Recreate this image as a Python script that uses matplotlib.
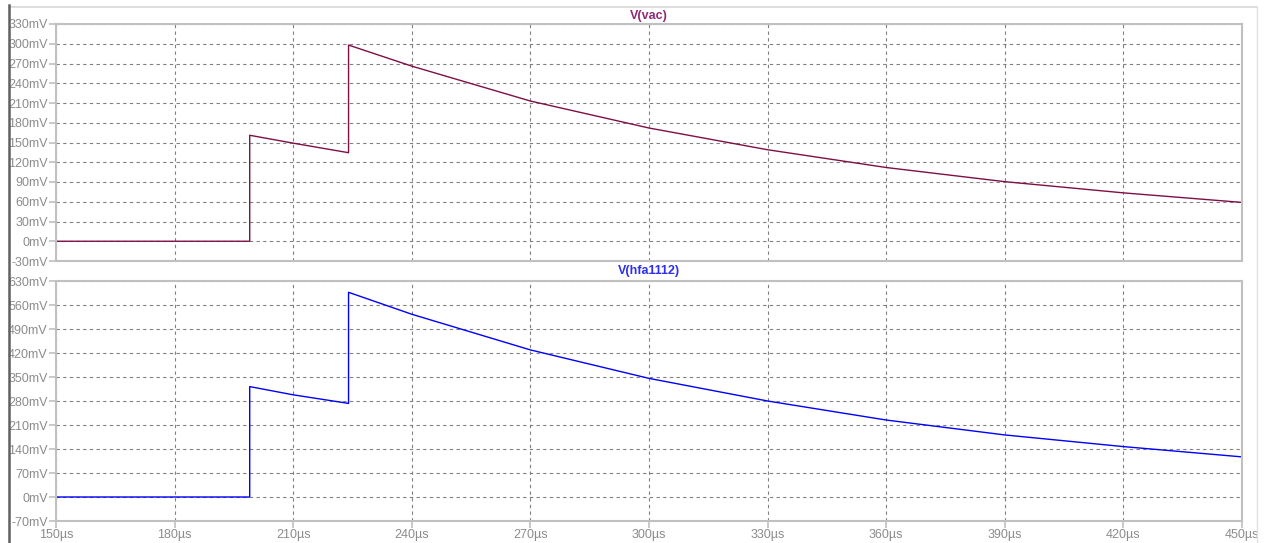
import matplotlib
matplotlib.use("Agg")
import matplotlib.pyplot as plt
from matplotlib.lines import Line2D

plt.rcParams['font.family'] = ['Liberation Sans', 'DejaVu Sans']

# 时间点 (µs)，跳变处重复
t_us = [150, 199, 199, 210, 224, 224, 240, 270, 300, 330, 360, 390, 420, 450]
# V(vac) (mV)
v_vac = [0, 0, 161, 149, 134.5, 298, 266, 213, 172, 139, 112, 90.5, 73.5, 59]
# V(hfa1112) (mV)
v_hfa = [0, 0, 322, 298, 273, 597, 533, 429, 346, 280, 224.5, 181, 147, 117]

x_ticks = list(range(150, 451, 30))
vac_ticks = list(range(-30, 331, 30))
hfa_ticks = list(range(-70, 631, 70))

W, H = 1265, 543
fig = plt.figure(figsize=(W / 100, H / 100), dpi=100)

def px_axes(x0, y0, x1, y1):
    return fig.add_axes([x0 / W, 1 - y1 / H, (x1 - x0) / W, (y1 - y0) / H])

ax1 = px_axes(56, 24, 1242, 261)
ax2 = px_axes(56, 281, 1242, 521)

grey = '#C0C0C0'
label_grey = '#8C8C8C'

for ax, yt in ((ax1, vac_ticks), (ax2, hfa_ticks)):
    ax.set_xlim(150, 450)
    ax.set_ylim(yt[0], yt[-1])
    ax.set_xticks(x_ticks)
    ax.set_yticks(yt)
    ax.set_yticklabels([f"{v}mV" for v in yt])
    ax.grid(True, color='#808080', linestyle=(0, (3, 3)), linewidth=0.8)
    for s in ax.spines.values():
        s.set_color(grey)
        s.set_linewidth(1.5)
    ax.tick_params(colors=grey, labelcolor=label_grey, labelsize=9,
                   length=5, width=1.2, direction='out', pad=1)

ax1.tick_params(axis='x', length=0, labelbottom=False)
ax2.set_xticklabels([f"{v}µs" for v in x_ticks])

ax1.plot(t_us, v_vac, color='#7F0F44', linewidth=1.0)
ax2.plot(t_us, v_hfa, color='#0000FF', linewidth=1.0)

fig.text(649 / W, 1 - 16 / H, 'V(vac)', ha='center', va='center',
         fontsize=9, fontweight='bold', color='#8E2A78')
fig.text(649 / W, 1 - 271 / H, 'V(hfa1112)', ha='center', va='center',
         fontsize=9, fontweight='bold', color='#2E2EF0')

# 窗口边框
fig.add_artist(Line2D([9 / W, 1257 / W], [1 - 7 / H, 1 - 7 / H], color='#D8D8D8', linewidth=1.2))
fig.add_artist(Line2D([8.5 / W, 8.5 / W], [0, 1 - 5 / H], color='#606060', linewidth=1.8))
fig.add_artist(Line2D([1257 / W, 1257 / W], [0, 1 - 7 / H], color='#E0E0E0', linewidth=1.0))

fig.savefig('out.png', dpi=100)
